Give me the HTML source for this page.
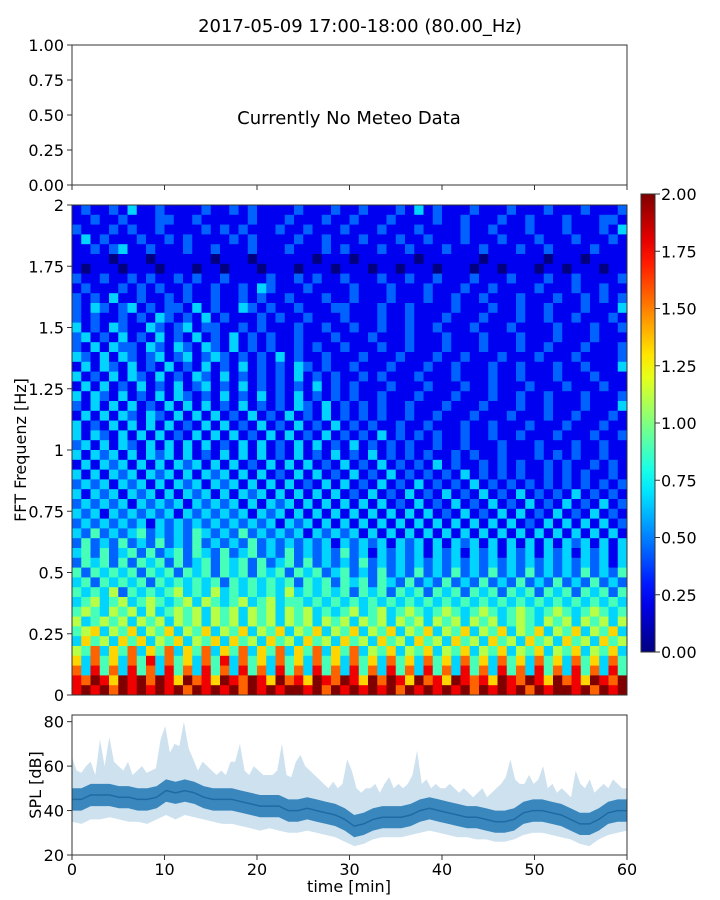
<!DOCTYPE html>
<html><head><meta charset="utf-8"><style>
html,body{margin:0;padding:0;background:#fff;}
svg{display:block;font-family:"DejaVu Sans","Liberation Sans",sans-serif;}
</style></head><body>
<svg id="fig" width="720" height="900" viewBox="0 0 720 900" xmlns="http://www.w3.org/2000/svg">
<text x="360" y="32" font-size="18" text-anchor="middle">2017-05-09 17:00-18:00 (80.00_Hz)</text>
<g id="meteo"></g>
<g id="spec"></g>
<g id="cbar"></g>
<g id="spl"></g>
</svg>
<script>
const specRows = [
"121121311211112112121111211121121112131211121112111211121112",
"112112111221121111121112111211211121111211211121121112111221",
"211121211211112121211121121112111211121111211211121112111213",
"131211121121211112121111211211121112112111211121112111211121",
"112123112111211211121112111212111211211121112111211211112111",
"111101110111111011101111110111011111101111110111111011101111",
"101110111011101101110111011101110110111011101101110110111011",
"211211212112121121111211212112111211211211121112111211211112",
"121112121211211211213211121111211121112111211211112111211211",
"212131121121211211212112111211211121112112112111211121121212",
"213212312122131211321211211122111211211112111211211211121113",
"212112121321213121112121121112111211211121112111211211211121",
"312132113212312211212111211211211211211211121112111121112112",
"231213121312131213121211211121112111211121112111211121112111",
"213132213213213213121211212112111211211121112111211211121112",
"321313212312312321212131211211121112111211211121112111211112",
"131321312131213121312121321211211121112112111211211121121113",
"312131321312132131212121312121121211121112111211211121112111",
"131312131213123121312121213121211121112111211211121112111211",
"313213121313212131213121312121211211121112111211211211121112",
"213131312131313121312121321312121211211121112111211211121113",
"131313213213131312131213121312121211211211121112111211211121",
"312131313131213131213121312131212112112111211211121112111211",
"313213131312131313121313121312121312121211211211211121112112",
"231313213131313121313121313121312121211211211121112111211211",
"313231313231312131313121312131213121212112121121112121211211",
"131323131313231313121313131213121312121312112121211212112121",
"313132313231313231313121313121312131212121312121211212121121",
"232313231313231323131313121313121312131212131212121212121212",
"313231323131323131323131313131213121312131213121312121312121",
"232323132323132323131323131313131312131213121312131213121312",
"323132323231323232313231313131313131313121312131312131213121",
"232323231323232323232313231313131313131313131313121313131312",
"324232342323243232423232313232313131313131313131313131313131",
"242324232423242323242323232313232313231313231313131313231313",
"342423424234243242342324232324231323231323132313231323132313",
"243424243424234243424234242323242323232323232323232323232313",
"424343424342434243424342434234232423242324232423242323242324",
"342434342434343424343434243424342432423242324232423242324232",
"434352434345343534343435343434243424342434243424342434243424",
"345345345434535434534534434343434343434343434343434343434343",
"454354535345453545354535453434534534543454345434543454345434",
"534545354535453545354535453545354535453545354534543545354535",
"456354635463546354635463546354635463546354635463546354635463",
"364536463546354636453645364536453645364536453645364536453645",
"547364736473647364736473647364735463546354635463546354635463",
"637463748374637483746374637463746374637463746374637463746374",
"738473847384738473847384738473847384738473847384738473847384",
"879869897986978698798697869879869798697869878698798697869879",
"898979898989798989798989989798989897989898979898979899897989"
];
const cbarTicks = ["0.00","0.25","0.50","0.75","1.00","1.25","1.50","1.75","2.00"];
const specYTicks = ["0","0.25","0.5","0.75","1","1.25","1.5","1.75","2"];
const meteoYTicks = ["0.00","0.25","0.50","0.75","1.00"];
const timeTicks = [0,10,20,30,40,50,60];
const splYTicks = [20,40,60,80];
const splHigh = [64,58,57,60,62,56,72,60,73,62, 60,58,62,56,58,60,57,58,59,72, 78,66,70,69,80,68,63,58,62,60, 58,56,58,56,62,62,70,58,56,60, 58,56,56,56,58,70,56,55,62,65, 60,58,56,54,52,50,53,50,52,63, 58,50,48,50,50,52,48,52,55,50, 52,50,52,56,67,52,54,50,52,50, 50,52,50,48,50,48,46,48,50,46, 48,50,52,55,63,54,52,52,56,52, 54,60,50,52,48,50,48,46,58,52, 50,54,48,50,52,50,54,52,50,50];
const splMean = [45,45,47,47,47,46,46,45,45,46, 49,48,49,48,46,45,45,45,44,43, 42,42,42,40,40,41,40,39,38,36, 33,34,36,37,37,37,38,40,41,40, 39,38,37,37,36,35,35,36,39,40, 40,39,38,36,34,34,36,39,40,40];
const splLow = [35,34,36,36,37,36,35,35,34,36, 38,36,38,37,36,35,34,34,33,32, 31,32,31,30,30,31,30,29,28,26, 24,25,27,28,28,28,29,30,31,30, 29,28,28,27,27,26,26,27,29,30, 30,29,28,27,25,24,27,29,30,31];

const NS="http://www.w3.org/2000/svg";
function mk(tag,attrs,parent,txt){const e=document.createElementNS(NS,tag);for(const k in attrs)e.setAttribute(k,attrs[k]);if(txt!==undefined)e.textContent=txt;parent.appendChild(e);return e;}
function jet(v){v=Math.max(0,Math.min(1,v));
 const st=[[0,0,0,128],[0.125,0,0,255],[0.375,0,255,255],[0.625,255,255,0],[0.875,255,0,0],[1,128,0,0]];
 for(let i=1;i<st.length;i++){if(v<=st[i][0]){const a=st[i-1],b=st[i],t=(v-a[0])/(b[0]-a[0]);
 return `rgb(${Math.round(a[1]+t*(b[1]-a[1]))},${Math.round(a[2]+t*(b[2]-a[2]))},${Math.round(a[3]+t*(b[3]-a[3]))})`;}}return "rgb(128,0,0)";}
const X0=72,X1=627;
const xT=t=>X0+(X1-X0)*t/60;

const m=document.getElementById('meteo');
const MY0=45,MY1=185;
let r=mk('rect',{x:X0,y:MY0,width:X1-X0,height:MY1-MY0,fill:'none',stroke:'#333','stroke-width':1},m);


meteoYTicks.forEach((lab,i)=>{const y=MY1-(MY1-MY0)*i/4;
 let l=mk('line',{x1:X0-5,x2:X0,y1:y,y2:y,stroke:'#333'},m);
 
 
 let t=mk('text',{x:X0-8,y:y+6,'font-size':16,'text-anchor':'end'},m,lab);
 
 });
timeTicks.forEach(v=>{let l=mk('line',{x1:xT(v),x2:xT(v),y1:MY1,y2:MY1+5,stroke:'#333'},m);
 
 });
let nt=mk('text',{x:349,y:124,'font-size':18,'text-anchor':'middle'},m,'Currently No Meteo Data');



const s=document.getElementById('spec');
const SY0=205,SY1=695;
const nR=specRows.length;
specRows.forEach((row,ri)=>{const nC=row.length;const cw=(X1-X0)/nC;const rh=(SY1-SY0)/nR;
 for(let ci=0;ci<nC;ci++){const val=parseInt(row[ci])/9*2;
  let c=mk('rect',{x:(X0+ci*cw).toFixed(2),y:(SY0+ri*rh).toFixed(2),width:(cw+0.5).toFixed(2),height:(rh+0.5).toFixed(2),fill:jet(val/2)},s);
  
  }});
r=mk('rect',{x:X0,y:SY0,width:X1-X0,height:SY1-SY0,fill:'none',stroke:'#333'},s);


specYTicks.forEach((lab,i)=>{const y=SY1-(SY1-SY0)*i/8;
 let l=mk('line',{x1:X0-5,x2:X0,y1:y,y2:y,stroke:'#333'},s);
 
 
 let t=mk('text',{x:X0-8,y:y+6,'font-size':16,'text-anchor':'end'},s,lab);
 
 });
let yl=mk('text',{x:0,y:0,'font-size':16,'text-anchor':'middle',transform:'translate(26,450) rotate(-90)'},s,'FFT Frequenz [Hz]');



const cb=document.getElementById('cbar');
const CX0=641,CX1=655,CY0=194,CY1=652;
const defs=mk('defs',{},cb);const g=mk('linearGradient',{id:'jetg',x1:0,y1:1,x2:0,y2:0},defs);
for(let i=0;i<=20;i++)mk('stop',{offset:i/20,'stop-color':jet(i/20)},g);
r=mk('rect',{x:CX0,y:CY0,width:CX1-CX0,height:CY1-CY0,fill:'url(#jetg)',stroke:'#333'},cb);


cbarTicks.forEach((lab,i)=>{const y=CY1-(CY1-CY0)*i/8;
 let l=mk('line',{x1:CX1,x2:CX1+5,y1:y,y2:y,stroke:'#333'},cb);
 
 
 let t=mk('text',{x:CX1+6,y:y+6,'font-size':16},cb,lab);
 
 });

const p=document.getElementById('spl');
const PY0=715,PY1=855,YMIN=20,YMAX=83;
const yS=v=>PY1-(PY1-PY0)*(v-YMIN)/(YMAX-YMIN);
let pts=[];
splHigh.forEach((v,i)=>pts.push(xT(i*60/(splHigh.length-1)).toFixed(1)+','+yS(v).toFixed(1)));
for(let i=splLow.length-1;i>=0;i--)pts.push(xT(i*60/(splLow.length-1)).toFixed(1)+','+yS(splLow[i]).toFixed(1));
let band=mk('polygon',{points:pts.join(' '),fill:'#1f77b4','fill-opacity':0.22},p);


pts=[];
splMean.forEach((v,i)=>pts.push(xT(i*60/(splMean.length-1)).toFixed(1)+','+yS(v+5).toFixed(1)));
for(let i=splMean.length-1;i>=0;i--)pts.push(xT(i*60/(splMean.length-1)).toFixed(1)+','+yS(splMean[i]-5).toFixed(1));
band=mk('polygon',{points:pts.join(' '),fill:'#1f77b4','fill-opacity':0.85},p);


pts=splMean.map((v,i)=>xT(i*60/(splMean.length-1)).toFixed(1)+','+yS(v).toFixed(1));
let ln=mk('polyline',{points:pts.join(' '),fill:'none',stroke:'#1f6aa4','stroke-width':1.5},p);


r=mk('rect',{x:X0,y:PY0,width:X1-X0,height:PY1-PY0,fill:'none',stroke:'#333'},p);


splYTicks.forEach(v=>{const y=yS(v);
 let l=mk('line',{x1:X0-5,x2:X0,y1:y,y2:y,stroke:'#333'},p);
 
 
 let t=mk('text',{x:X0-8,y:y+6,'font-size':16,'text-anchor':'end'},p,String(v));
 
 });
timeTicks.forEach(v=>{const x=xT(v);
 let l=mk('line',{x1:x,x2:x,y1:PY1,y2:PY1+5,stroke:'#333'},p);
 
 
 let t=mk('text',{x:x,y:PY1+20,'font-size':16,'text-anchor':'middle'},p,String(v));
 
 });
let xl=mk('text',{x:349,y:892,'font-size':16,'text-anchor':'middle'},p,'time [min]');


let sl=mk('text',{x:0,y:0,'font-size':16,'text-anchor':'middle',transform:'translate(41,785) rotate(-90)'},p,'SPL [dB]');


</script>
</body></html>
